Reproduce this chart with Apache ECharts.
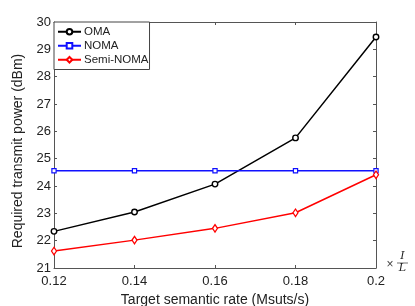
<!DOCTYPE html>
<html><head><meta charset="utf-8">
<script src="https://cdn.jsdelivr.net/npm/echarts@6/dist/echarts.min.js"></script>
<style>html,body{margin:0;padding:0;background:#fff}#c{width:415px;height:306px}</style>
</head><body><div id="c"></div>
<script>
const xValues = [0.12, 0.14, 0.16, 0.18, 0.2];
const omaValues = [22.34, 23.05, 24.07, 25.76, 29.45];
const nomaValues = [24.56, 24.56, 24.56, 24.56, 24.56];
const semiValues = [21.62, 22.02, 22.45, 23.02, 24.41];
const xTicks = [0.12, 0.14, 0.16, 0.18, 0.2];
const yTicks = [21, 22, 23, 24, 25, 26, 27, 28, 29, 30];

const font = 'Liberation Sans, Arial, sans-serif';
const axisLine = {show: true, lineStyle: {color: '#555', width: 1}};
const tick = {show: true, inside: true, length: 3, lineStyle: {color: '#555'}};
function pairs(v){ return xValues.map((x,i)=>[x, v[i]]); }
const chart = echarts.init(document.getElementById('c'));
chart.setOption({
  animation: false,
  grid: {left: 54, right: 39, top: 22, bottom: 38, containLabel: false, outerBoundsMode: 'none'},
  xAxis: [{
    type: 'value', min: 0.12, max: 0.2, interval: 0.02,
    axisLine, axisTick: tick, splitLine: {show: false},
    axisLabel: {color: '#222', fontSize: 13, fontFamily: font, margin: 7,
      formatter: v => String(+v.toFixed(2))},
    name: 'Target semantic rate (Msuts/s)', nameLocation: 'middle', nameGap: 22,
    nameTextStyle: {color: '#222', fontSize: 14, fontFamily: font}
  }, {
    type: 'value', min: 0.12, max: 0.2, interval: 0.02, position: 'top',
    axisLine, axisTick: tick, axisLabel: {show: false}, splitLine: {show: false}
  }],
  yAxis: [{
    type: 'value', min: 21, max: 30, interval: 1,
    axisLine, axisTick: tick, splitLine: {show: false},
    axisLabel: {color: '#222', fontSize: 13, fontFamily: font, margin: 3},
    name: 'Required transmit power (dBm)', nameLocation: 'middle', nameGap: 24,
    nameTextStyle: {color: '#222', fontSize: 14, fontFamily: font, padding: [0, 12, 0, 0]}
  }, {
    type: 'value', min: 21, max: 30, interval: 1, position: 'right',
    axisLine, axisTick: tick, axisLabel: {show: false}, splitLine: {show: false}
  }],
  legend: {
    left: 54, top: 22, orient: 'vertical', itemGap: 2, itemWidth: 23, itemHeight: 7,
    padding: [3.75, 1, 3.75, 3], borderColor: '#444', borderWidth: 1, borderRadius: 0,
    backgroundColor: '#fff',
    textStyle: {color: '#222', fontSize: 11.5, fontFamily: font, padding: [0,0,0,-2]},
    data: ['OMA', 'NOMA', 'Semi-NOMA']
  },
  series: [
    {name: 'OMA', type: 'line', data: pairs(omaValues), symbol: 'circle', symbolSize: 5.5,
     lineStyle: {color: '#000', width: 1.5}, itemStyle: {color: '#fff', borderColor: '#000', borderWidth: 1.4}},
    {name: 'NOMA', type: 'line', data: pairs(nomaValues), symbol: 'rect', symbolSize: 4.2,
     lineStyle: {color: '#1010ff', width: 1.5}, itemStyle: {color: '#fff', borderColor: '#1010ff', borderWidth: 1.2}},
    {name: 'Semi-NOMA', type: 'line', data: pairs(semiValues), symbol: 'diamond', symbolSize: [5, 7.5],
     lineStyle: {color: '#ff0000', width: 1.5}, itemStyle: {color: '#fff', borderColor: '#ff0000', borderWidth: 1.3}}
  ],
  graphic: [
    {type: 'text', x: 390, y: 265, style: {text: '×', fontSize: 12, fontFamily: font, fill: '#444', align: 'center', verticalAlign: 'middle'}},
    {type: 'text', x: 402.5, y: 256.5, style: {text: 'I', fontSize: 11, fontStyle: 'italic', fontFamily: 'DejaVu Serif, serif', fill: '#222', align: 'center', verticalAlign: 'middle'}},
    {type: 'line', shape: {x1: 397, y1: 263, x2: 408, y2: 263}, style: {stroke: '#333', lineWidth: 0.7}},
    {type: 'text', x: 402.5, y: 268.5, style: {text: 'L', fontSize: 11, fontStyle: 'italic', fontFamily: 'DejaVu Serif, serif', fill: '#222', align: 'center', verticalAlign: 'middle'}}
  ]
});
</script></body></html>
